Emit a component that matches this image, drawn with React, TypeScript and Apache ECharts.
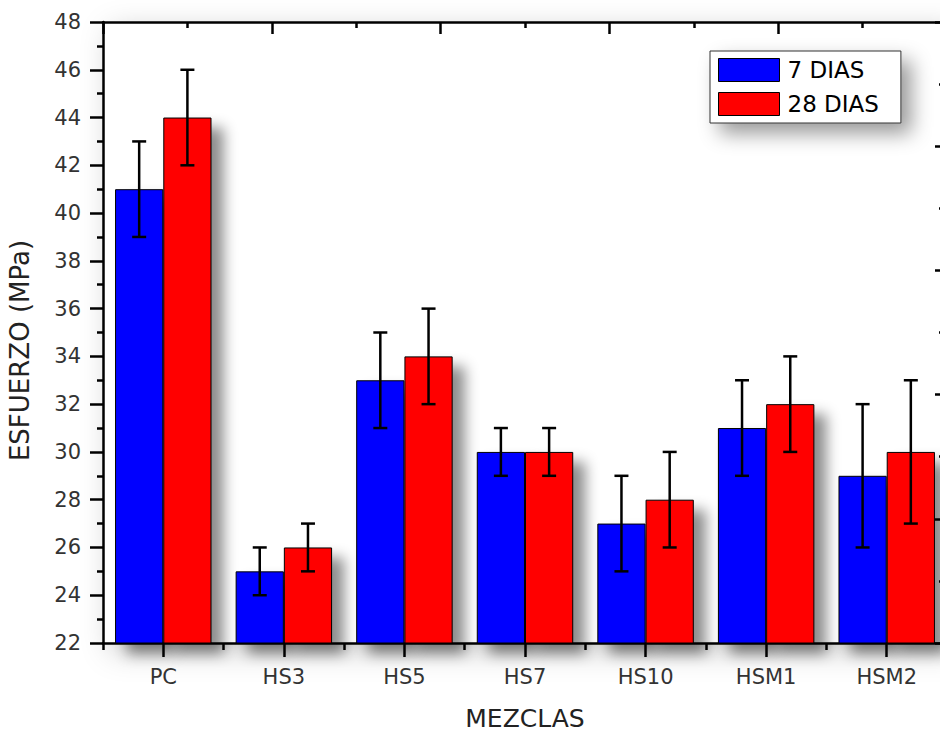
import React, { useEffect, useRef } from "react";
import * as echarts from "echarts";

const categories = ["PC", "HS3", "HS5", "HS7", "HS10", "HSM1", "HSM2"];
const dias7 = [41, 25, 33, 30, 27, 31, 29];
const dias28 = [44, 26, 34, 30, 28, 32, 30];
const err7 = [2, 1, 2, 1, 2, 2, 3];
const err28 = [2, 1, 2, 1, 2, 2, 3];
const seriesNames = ["7 DIAS", "28 DIAS"];
const yMin = 22;
const yMax = 48;
const yStep = 2;

const FONT = '"DejaVu Sans", "Liberation Sans", Arial, sans-serif';
const AXIS_COLOR = "#000";

function makeErrorSeries(values: number[], errs: number[], side: number) {
  return {
    type: "custom",
    name: "err" + side,
    xAxisIndex: 0,
    yAxisIndex: 0,
    z: 10,
    silent: true,
    data: values.map((v, i) => [i, v, errs[i]]),
    encode: { x: 0, y: 1 },
    renderItem: (params: any, api: any) => {
      const idx = api.value(0);
      const val = api.value(1);
      const e = api.value(2);
      const band = api.size([1, 0])[0];
      const off = band * 0.2 * side;
      const top = api.coord([idx, val + e]);
      const bot = api.coord([idx, val - e]);
      const x = top[0] + off;
      const hw = 7;
      const style = { stroke: "#000", lineWidth: 2.5 };
      return {
        type: "group",
        children: [
          { type: "line", shape: { x1: x, y1: top[1], x2: x, y2: bot[1] }, style },
          { type: "line", shape: { x1: x - hw, y1: top[1], x2: x + hw, y2: top[1] }, style },
          { type: "line", shape: { x1: x - hw, y1: bot[1], x2: x + hw, y2: bot[1] }, style },
        ],
      };
    },
  };
}

export default function App() {
  const ref = useRef<HTMLDivElement>(null);
  useEffect(() => {
    document.body.style.margin = "0";
    if (!ref.current) return;
    const chart = echarts.init(ref.current, null, { renderer: "svg" });
    const barShadow = {
      shadowBlur: 14,
      shadowColor: "rgba(0,0,0,0.45)",
      shadowOffsetX: 12,
      shadowOffsetY: 10,
    };
    chart.setOption({
      animation: false,
      backgroundColor: "#fff",
      textStyle: { fontFamily: FONT },
      grid: {
        left: 103,
        top: 22,
        width: 844,
        height: 621,
        outerBoundsMode: "none",
        containLabel: false,
        show: true,
        backgroundColor: "#fff",
        borderWidth: 0,
        shadowBlur: 30,
        shadowColor: "rgba(0,0,0,0.22)",
        shadowOffsetX: 8,
        shadowOffsetY: 8,
      },
      legend: {
        data: seriesNames,
        orient: "vertical",
        left: 710,
        top: 51,
        icon: "rect",
        itemWidth: 61,
        itemHeight: 23,
        itemGap: 10,
        padding: [7, 22, 7, 8],
        backgroundColor: "#fff",
        borderColor: "#333",
        borderWidth: 1,
        shadowBlur: 20,
        shadowColor: "rgba(0,0,0,0.4)",
        shadowOffsetX: 10,
        shadowOffsetY: 10,
        itemStyle: { shadowBlur: 0, shadowOffsetX: 0, shadowOffsetY: 0, borderColor: "#000", borderWidth: 1 },
        textStyle: { fontSize: 23, color: "#000", fontFamily: FONT, padding: [0, 0, 0, 3] },
      },
      xAxis: [
        {
          type: "category",
          data: categories,
          position: "bottom",
          name: "MEZCLAS",
          nameLocation: "middle",
          nameGap: 63,
          nameTextStyle: { fontSize: 25, lineHeight: 24, color: "#222", fontFamily: FONT },
          axisLine: { show: true, lineStyle: { color: AXIS_COLOR, width: 2.5 } },
          axisTick: { show: true, alignWithLabel: true, length: 14, lineStyle: { color: AXIS_COLOR, width: 2.5 } },
          axisLabel: { margin: 23, fontSize: 21, color: "#333", fontFamily: FONT },
          splitLine: { show: false },
        },
        {
          type: "category",
          data: categories,
          position: "bottom",
          axisLine: { show: false },
          axisTick: { show: true, alignWithLabel: false, length: 7, lineStyle: { color: AXIS_COLOR, width: 2.5 } },
          axisLabel: { show: false },
          splitLine: { show: false },
        },
        {
          type: "value",
          position: "top",
          min: 0,
          max: 10,
          interval: 2,
          axisLine: { show: true, lineStyle: { color: AXIS_COLOR, width: 2.5 } },
          axisTick: { show: true, inside: true, length: 12, lineStyle: { color: AXIS_COLOR, width: 2.5 } },
          minorTick: { show: true, splitNumber: 2, length: 6, lineStyle: { color: AXIS_COLOR, width: 2.5 } },
          axisLabel: { show: false },
          splitLine: { show: false },
        },
      ],
      yAxis: [
        {
          type: "value",
          position: "left",
          min: yMin,
          max: yMax,
          interval: yStep,
          name: "ESFUERZO (MPa)",
          nameLocation: "middle",
          nameGap: 70,
          nameRotate: 90,
          nameTextStyle: { fontSize: 26, color: "#222", fontFamily: FONT, padding: [0, 36, 0, 0] },
          axisLine: { show: true, lineStyle: { color: AXIS_COLOR, width: 2.5 } },
          axisTick: { show: true, length: 13, lineStyle: { color: AXIS_COLOR, width: 2.5 } },
          minorTick: { show: true, splitNumber: 2, length: 6, lineStyle: { color: AXIS_COLOR, width: 2.5 } },
          axisLabel: { margin: 22, fontSize: 21, color: "#333", fontFamily: FONT },
          splitLine: { show: false },
        },
        {
          type: "value",
          position: "right",
          min: 0,
          max: 10,
          interval: 2,
          axisLine: { show: true, lineStyle: { color: AXIS_COLOR, width: 2.5 } },
          axisTick: { show: true, inside: true, length: 12, lineStyle: { color: AXIS_COLOR, width: 2.5 } },
          minorTick: { show: true, splitNumber: 2, length: 8, lineStyle: { color: AXIS_COLOR, width: 2.5 } },
          axisLabel: { show: false },
          splitLine: { show: false },
        },
      ],
      series: [
        {
          type: "bar",
          name: seriesNames[0],
          xAxisIndex: 0,
          yAxisIndex: 0,
          data: dias7,
          barGap: "0%",
          barCategoryGap: "20%",
          itemStyle: { color: "#0000ff", borderColor: "#000", borderWidth: 1, ...barShadow },
        },
        {
          type: "bar",
          name: seriesNames[1],
          xAxisIndex: 0,
          yAxisIndex: 0,
          data: dias28,
          barGap: "0%",
          barCategoryGap: "20%",
          itemStyle: { color: "#ff0000", borderColor: "#000", borderWidth: 1, ...barShadow },
        },
        makeErrorSeries(dias7, err7, -1),
        makeErrorSeries(dias28, err28, 1),
      ],
    });
    return () => chart.dispose();
  }, []);
  return <div ref={ref} style={{ width: 940, height: 731 }} />;
}
